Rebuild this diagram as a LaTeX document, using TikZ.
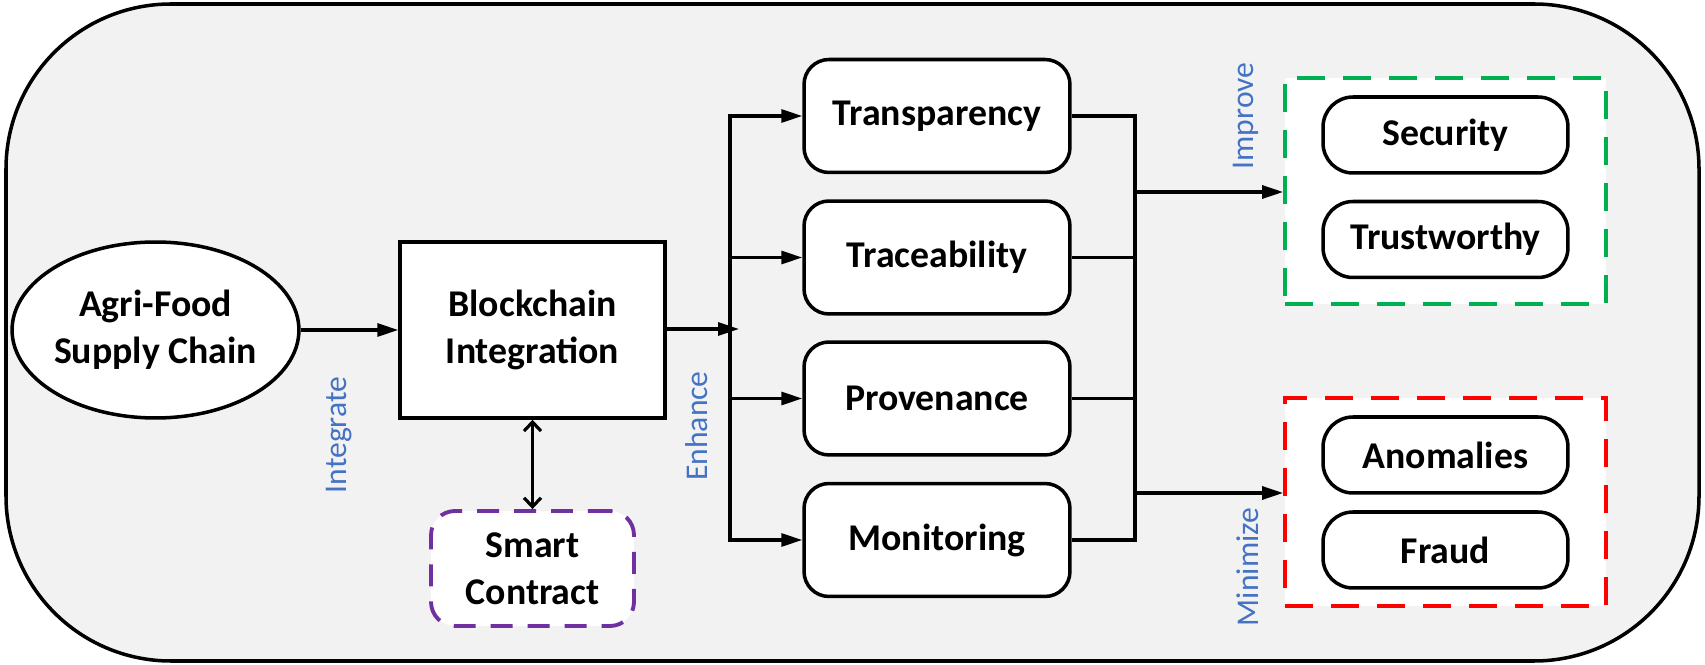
\documentclass[tikz,border=0pt]{standalone}
\usepackage{fontspec}
\setmainfont{Carlito}
\usetikzlibrary{arrows.meta,shapes.geometric}
\definecolor{panelgray}{HTML}{F2F2F2}
\definecolor{verbblue}{HTML}{4472C4}
\definecolor{okgreen}{HTML}{00B050}
\definecolor{alertred}{HTML}{FF0000}
\definecolor{contractpurple}{HTML}{7030A0}
\tikzset{
  boxtext/.style={font=\bfseries\fontsize{21.5}{27}\selectfont, align=center, inner sep=0pt},
  solidbox/.style={boxtext, draw, line width=2pt, fill=white},
  stagebox/.style={solidbox, rounded corners=0.5cm, minimum width=5.32cm, minimum height=2.26cm},
  outcomebox/.style={solidbox, rounded corners=0.6cm, minimum width=4.9cm, minimum height=1.52cm},
  groupbox/.style={draw, line width=2.2pt, fill=white, dash pattern=on 0.56cm off 0.36cm, minimum width=6.42cm, inner sep=0pt},
  verb/.style={font=\fontsize{18}{22}\selectfont, text=verbblue, rotate=90, inner sep=0pt},
  flow/.style={line width=1.8pt, -{Triangle[length=0.42cm, width=0.26cm]}},
  wire/.style={line width=1.8pt}
}
\begin{document}
\begin{tikzpicture}[x=0.02cm, y=-0.02cm]
\useasboundingbox (0,0) rectangle (1705,665);
% outer panel
\draw[line width=2pt, fill=panelgray, rounded corners=3.3cm] (6,4) rectangle (1699,661);

% source and integration
\node[solidbox, ellipse, minimum width=5.3cm, minimum height=3.52cm] (chain) at (155.5,330) {Agri-Food\\Supply Chain};
\node[solidbox, minimum width=5.3cm, minimum height=3.52cm] (bc) at (532.5,330) {Blockchain\\Integration};
\node[solidbox, draw=contractpurple, line width=2.2pt, rounded corners=0.48cm, dash pattern=on 0.44cm off 0.3cm,
      minimum width=4.06cm, minimum height=2.3cm] (sc) at (532.5,568.5) {Smart\\Contract};

\draw[flow] (chain.east) -- (bc.west);
\draw[line width=1.8pt, {Straight Barb[length=0.18cm, width=0.34cm]}-{Straight Barb[length=0.18cm, width=0.34cm]}] (bc.south) -- (sc.north);

% enhanced properties
\node[stagebox] (tr) at (937,116) {Transparency};
\node[stagebox] (tc) at (937,257.5) {Traceability};
\node[stagebox] (pv) at (937,398.5) {Provenance};
\node[stagebox] (mo) at (937,540) {Monitoring};

\coordinate (lbusT) at (730,116);
\coordinate (lbusB) at (730,540);
\coordinate (enh) at (739,329);
\draw[wire, line cap=rect] (lbusT) -- (lbusB);
\draw[flow] (bc.east |- enh) -- (enh);
\foreach \n in {tr,tc,pv,mo} \draw[flow] (lbusT |- \n.west) -- (\n.west);

\coordinate (rbusT) at (1135,116);
\coordinate (rbusB) at (1135,540);
\draw[wire, line cap=rect] (rbusT) -- (rbusB);
\foreach \n in {tr,tc,pv,mo} \draw[wire] (\n.east) -- (rbusT |- \n.east);

% outcome groups
\node[groupbox, draw=okgreen, minimum height=4.52cm] (good) at (1445.5,191) {};
\node[groupbox, draw=alertred, minimum height=4.16cm] (bad) at (1445.5,502) {};
\node[outcomebox] (sec) at (1445.5,135) {Security};
\node[outcomebox] (tw) at (1445.5,239.5) {Trustworthy};
\node[outcomebox] (an) at (1445.5,455) {Anomalies};
\node[outcomebox] (fr) at (1445.5,550) {Fraud};

\coordinate (upOut) at (1135,192);
\coordinate (downOut) at (1135,493);
\draw[flow] (upOut) -- (good.west |- upOut);
\draw[flow] (downOut) -- (bad.west |- downOut);

% relation labels
\node[verb] (l1) at (339,435) {Integrate};
\node[verb] (l2) at (697,426) {Enhance};
\node[verb] (l3) at (1246,116) {Improve};
\node[verb] (l4) at (1248,567) {Minimize};
\end{tikzpicture}
\end{document}
